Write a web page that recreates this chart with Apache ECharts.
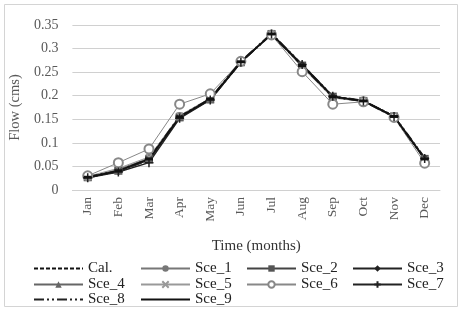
<!DOCTYPE html>
<html><head><meta charset="utf-8">
<script src="https://cdn.jsdelivr.net/npm/echarts@6/dist/echarts.min.js"></script>
<style>html,body{margin:0;padding:0;background:#fff}#c{width:462px;height:312px}</style>
</head><body><div id="c"></div>
<script>
var months = ['Jan','Feb','Mar','Apr','May','Jun','Jul','Aug','Sep','Oct','Nov','Dec'];
var yTicks = [0,0.05,0.1,0.15,0.2,0.25,0.3,0.35];
var cal   = [0.027,0.040,0.065,0.155,0.193,0.272,0.331,0.265,0.198,0.189,0.156,0.067];
var sce1  = [0.028,0.044,0.068,0.157,0.194,0.272,0.330,0.262,0.196,0.188,0.155,0.065];
var sce2  = [0.027,0.041,0.065,0.154,0.192,0.271,0.331,0.264,0.198,0.189,0.156,0.066];
var sce3  = [0.027,0.040,0.064,0.155,0.193,0.272,0.331,0.265,0.198,0.189,0.156,0.067];
var sce4  = [0.028,0.042,0.066,0.156,0.193,0.272,0.330,0.263,0.197,0.188,0.155,0.066];
var sce5  = [0.029,0.046,0.070,0.158,0.195,0.273,0.330,0.260,0.195,0.188,0.155,0.064];
var sce6  = [0.030,0.058,0.087,0.182,0.204,0.273,0.329,0.251,0.182,0.187,0.154,0.057];
var sce7  = [0.026,0.038,0.058,0.152,0.191,0.271,0.331,0.266,0.199,0.189,0.156,0.067];
var sce8  = [0.027,0.040,0.065,0.155,0.193,0.272,0.331,0.265,0.198,0.189,0.156,0.067];
var sce9  = [0.027,0.041,0.066,0.155,0.193,0.272,0.331,0.264,0.198,0.189,0.156,0.066];
var legendRows = [['Cal.','Sce_1','Sce_2','Sce_3'],['Sce_4','Sce_5','Sce_6','Sce_7'],['Sce_8','Sce_9']];

var serif = '"Liberation Serif","DejaVu Serif",serif';
function S(name, data, o){
  return Object.assign({
    name: name, type: 'line', data: data, symbolSize: 7,
    lineStyle: {width: 1.5, color: '#333'},
    itemStyle: {color: '#444', borderColor: '#444'}
  }, o);
}
var series = [
  S('Cal.', cal, {symbol:'none', lineStyle:{width:1.5,color:'#111',type:[4,2]}, itemStyle:{color:'#111'}}),
  S('Sce_1', sce1, {symbol:'circle', symbolSize:8, lineStyle:{width:1,color:'#777'}, itemStyle:{color:'#777'}}),
  S('Sce_2', sce2, {symbol:'rect', symbolSize:8, lineStyle:{width:1.5,color:'#444'}, itemStyle:{color:'#555'}}),
  S('Sce_3', sce3, {symbol:'diamond', symbolSize:8, lineStyle:{width:1.5,color:'#222'}, itemStyle:{color:'#222'}}),
  S('Sce_4', sce4, {symbol:'triangle', symbolSize:8, lineStyle:{width:1,color:'#666'}, itemStyle:{color:'#666'}}),
  S('Sce_5', sce5, {symbol:'path://M0,0L10,10M10,0L0,10', symbolSize:6, lineStyle:{width:1,color:'#999'}, itemStyle:{color:'none',borderColor:'#999',borderWidth:1.5}}),
  S('Sce_6', sce6, {symbol:'emptyCircle', symbolSize:9, lineStyle:{width:1,color:'#888'}, itemStyle:{color:'#888',borderColor:'#888',borderWidth:1.5}}),
  S('Sce_7', sce7, {symbol:'path://M5,0L5,10M0,5L10,5', symbolSize:9, lineStyle:{width:1.5,color:'#222'}, itemStyle:{color:'none',borderColor:'#222',borderWidth:1.5}}),
  S('Sce_8', sce8, {symbol:'none', lineStyle:{width:2.5,color:'#222',type:[10,3,2,3,2,3]}, itemStyle:{color:'#222'}}),
  S('Sce_9', sce9, {symbol:'path://M0,4L10,4L10,6L0,6Z', symbolSize:[8,3], lineStyle:{width:1.5,color:'#111'}, itemStyle:{color:'#111'}})
];
var noSym = {'Cal.':1, 'Sce_8':1, 'Sce_9':1};
var rowTops = [261, 277, 292];
var colLefts = [33, 140, 246, 352];
var legends = [];
legendRows.forEach(function(row, r){
  row.forEach(function(n, c){
    legends.push({
      data: [noSym[n] ? {name:n, itemStyle:{opacity:0}} : {name:n}],
      left: colLefts[c], top: rowTops[r], itemWidth: 49, itemHeight: 8,
      padding: 0, selectedMode: false,
      textStyle: {fontFamily: serif, fontSize: 15, color: '#222'}
    });
  });
});
var chart = echarts.init(document.getElementById('c'));
chart.setOption({
  animation: false,
  backgroundColor: '#fff',
  graphic: [{type:'rect', shape:{x:4.5,y:4.5,width:453,height:302}, style:{fill:'none', stroke:'#d4d4d4', lineWidth:1}, silent:true}],
  grid: {left: 66, right: 22, top: 25, bottom: 122},
  legend: legends,
  xAxis: {
    type: 'category', data: months, boundaryGap: true,
    name: 'Time (months)', nameLocation: 'middle', nameGap: 49,
    nameTextStyle: {fontFamily: serif, fontSize: 15, color: '#333'},
    axisLine: {show: true, lineStyle: {color: '#d0d0d0'}}, axisTick: {show: false},
    axisLabel: {rotate: 90, margin: 7, fontFamily: serif, fontSize: 13.5, color: '#595959'}
  },
  yAxis: {
    type: 'value', min: 0, max: 0.35, interval: 0.05,
    name: 'Flow (cms)', nameLocation: 'middle', nameGap: 42,
    nameTextStyle: {fontFamily: serif, fontSize: 14.5, color: '#595959'},
    axisLine: {show: false}, axisTick: {show: false},
    axisLabel: {margin: 14, fontFamily: serif, fontSize: 14, color: '#595959',
      formatter: function(v){ var i = yTicks.indexOf(+v.toFixed(2)); return i>=0 ? String(yTicks[i]) : ''; }},
    splitLine: {lineStyle: {color: '#d0d0d0', width: 1}}
  },
  series: series
});
</script></body></html>
